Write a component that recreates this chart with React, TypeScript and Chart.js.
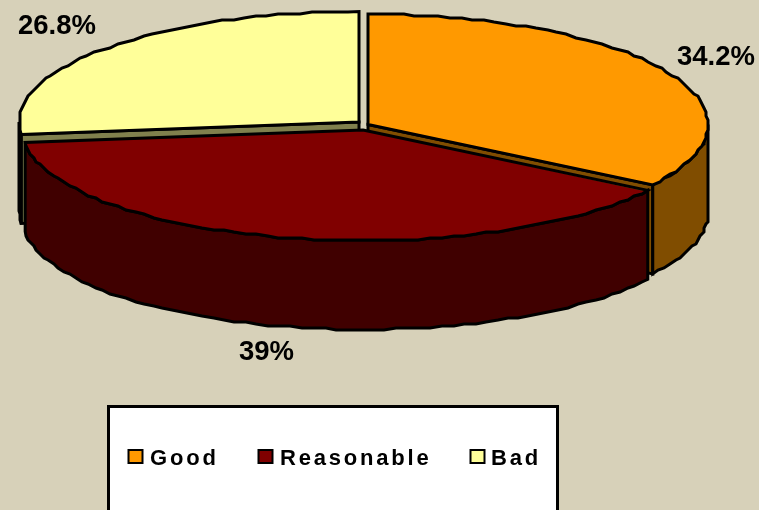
import React, { useEffect, useRef } from "react";
import { Chart, registerables } from "chart.js";

Chart.register(...registerables);

const categories = ["Good", "Reasonable", "Bad"];
const shares = [34.2, 39, 26.8];
const shareLabels = ["34.2%", "39%", "26.8%"];
const topColors = ["#FF9900", "#800000", "#FFFF99"];
const sideColors = ["#804D00", "#400000", "#80804D"];

// Styling of the tilted, exploded pie
const PAGE_BG = "#D7D1B9";
const CENTER = { x: 364, y: 125.5 };
const RX = 340;
const RY = 110.5;
const DEPTH = 89;
const SLICE_SHIFT = [
  [4, -1],
  [-1, 4.5],
  [-5, -3.5],
];
const LABEL_POS = [
  [677, 65],
  [239, 360],
  [18, 34],
];
const LEGEND_BOX = { x: 108.5, y: 406.5, w: 449, h: 120 };
const LEGEND_SWATCH_X = [128.5, 258.5, 470.5];
const LEGEND_TEXT_X = [150, 280, 491];

const FONT = '"Liberation Sans", Arial, sans-serif';
const TAU = Math.PI * 2;
const RIM_STEP = (2 * Math.PI) / 180; // the rim is a slightly rough polyline
const RIM_GRID = 2;

const tiltedPie = {
  id: "tiltedPie",
  beforeDatasetsDraw(chart: any) {
    const ctx: CanvasRenderingContext2D = chart.ctx;
    const arcs: any[] = chart.getDatasetMeta(0).data;
    const order = arcs
      .map((arc, i) => {
        const mid = (arc.startAngle + arc.endAngle) / 2;
        return { arc, i, front: Math.sin(mid) };
      })
      .sort((a, b) => a.front - b.front);

    ctx.save();
    ctx.lineWidth = 3;
    ctx.strokeStyle = "#000";
    ctx.lineJoin = "miter";
    ctx.miterLimit = 3;

    for (const { arc, i } of order) {
      const px = CENTER.x + SLICE_SHIFT[i][0];
      const py = CENTER.y + SLICE_SHIFT[i][1];
      const a: number = arc.startAngle;
      const b: number = arc.endAngle;
      const pt = (t: number) => [px + RX * Math.cos(t), py + RY * Math.sin(t)];

      // rough rim between two angles, as a list of points
      const rim = (s: number, e: number, dy: number) => {
        const out: number[][] = [];
        const first = pt(s);
        out.push([first[0], first[1] + dy]);
        const n = Math.max(1, Math.ceil((e - s) / RIM_STEP));
        for (let k = 1; k < n; k++) {
          const p = pt(s + ((e - s) * k) / n);
          out.push([
            Math.round(p[0] / RIM_GRID) * RIM_GRID,
            Math.round((p[1] + dy) / RIM_GRID) * RIM_GRID,
          ]);
        }
        const last = pt(e);
        out.push([last[0], last[1] + dy]);
        return out;
      };

      const wall = (p: number[], q: number[]) => {
        ctx.beginPath();
        ctx.moveTo(p[0], p[1]);
        ctx.lineTo(q[0], q[1]);
        ctx.lineTo(q[0], q[1] + DEPTH);
        ctx.lineTo(p[0], p[1] + DEPTH);
        ctx.closePath();
        ctx.fillStyle = sideColors[i];
        ctx.fill();
        ctx.stroke();
      };

      // flat walls along the two cut edges, when they face the viewer
      const normA = ((a + Math.PI / 2) % TAU + TAU) % TAU; // clockwise from 12 o'clock
      const normB = ((b + Math.PI / 2) % TAU + TAU) % TAU;
      if (normA > Math.PI) wall([px, py], pt(a));
      if (normB > 0 && normB < Math.PI) wall([px, py], pt(b));

      // curved wall: the part of the rim on the front half of the ellipse
      for (const shift of [0, TAU]) {
        const s = Math.max(a, shift);
        const e = Math.min(b, shift + Math.PI);
        if (e > s) {
          const upper = rim(s, e, 0);
          const lower = rim(s, e, DEPTH).reverse();
          ctx.beginPath();
          [...upper, ...lower].forEach((p, k) =>
            k ? ctx.lineTo(p[0], p[1]) : ctx.moveTo(p[0], p[1])
          );
          ctx.closePath();
          ctx.fillStyle = sideColors[i];
          ctx.fill();
          ctx.stroke();
        }
      }

      // outline of the top face
      const outline = () => {
        ctx.beginPath();
        ctx.moveTo(px, py);
        rim(a, b, 0).forEach((p) => ctx.lineTo(p[0], p[1]));
        ctx.closePath();
      };

      // top face: the library's own arc, flattened and trimmed to the rough rim
      const R: number = arc.outerRadius;
      ctx.save();
      outline();
      ctx.clip();
      ctx.translate(px, py);
      ctx.scale((RX + 4) / R, (RY + 4) / R);
      ctx.translate(-arc.x, -arc.y);
      arc.draw(ctx);
      ctx.restore();

      outline();
      ctx.stroke();
    }
    ctx.restore();
    return false;
  },
  afterDraw(chart: any) {
    const ctx: CanvasRenderingContext2D = chart.ctx;
    const colors = chart.data.datasets[0].backgroundColor;
    ctx.save();

    // value labels
    ctx.fillStyle = "#000";
    ctx.textBaseline = "alphabetic";
    ctx.textAlign = "left";
    ctx.font = `bold 27.5px ${FONT}`;
    shareLabels.forEach((t, i) => {
      ctx.fillText(t, LABEL_POS[i][0], LABEL_POS[i][1]);
    });

    // legend box
    ctx.fillStyle = "#FFFFFF";
    ctx.strokeStyle = "#000";
    ctx.lineWidth = 3;
    ctx.fillRect(LEGEND_BOX.x, LEGEND_BOX.y, LEGEND_BOX.w, LEGEND_BOX.h);
    ctx.strokeRect(LEGEND_BOX.x, LEGEND_BOX.y, LEGEND_BOX.w, LEGEND_BOX.h);

    ctx.font = `bold 22px ${FONT}`;
    (ctx as any).letterSpacing = "2.8px";
    chart.data.labels.forEach((t: string, i: number) => {
      ctx.fillStyle = colors[i];
      ctx.lineWidth = 2;
      ctx.fillRect(LEGEND_SWATCH_X[i], 450, 14, 13);
      ctx.strokeRect(LEGEND_SWATCH_X[i], 450, 14, 13);
      ctx.fillStyle = "#000";
      ctx.fillText(t, LEGEND_TEXT_X[i], 465);
    });
    ctx.restore();
  },
};

export default function App() {
  const ref = useRef<HTMLCanvasElement>(null);
  useEffect(() => {
    const chart = new Chart(ref.current!, {
      type: "pie",
      data: {
        labels: categories,
        datasets: [
          {
            data: shares,
            backgroundColor: topColors,
            borderWidth: 0,
          },
        ],
      },
      options: {
        animation: false,
        responsive: false,
        devicePixelRatio: 1,
        plugins: { legend: { display: false }, tooltip: { enabled: false } },
      },
      plugins: [tiltedPie],
    } as any);
    return () => chart.destroy();
  }, []);
  return (
    <div style={{ position: "fixed", left: 0, top: 0, width: 759, height: 510, background: PAGE_BG, overflow: "hidden" }}>
      <canvas ref={ref} width={759} height={510} style={{ display: "block", width: 759, height: 510 }} />
    </div>
  );
}
